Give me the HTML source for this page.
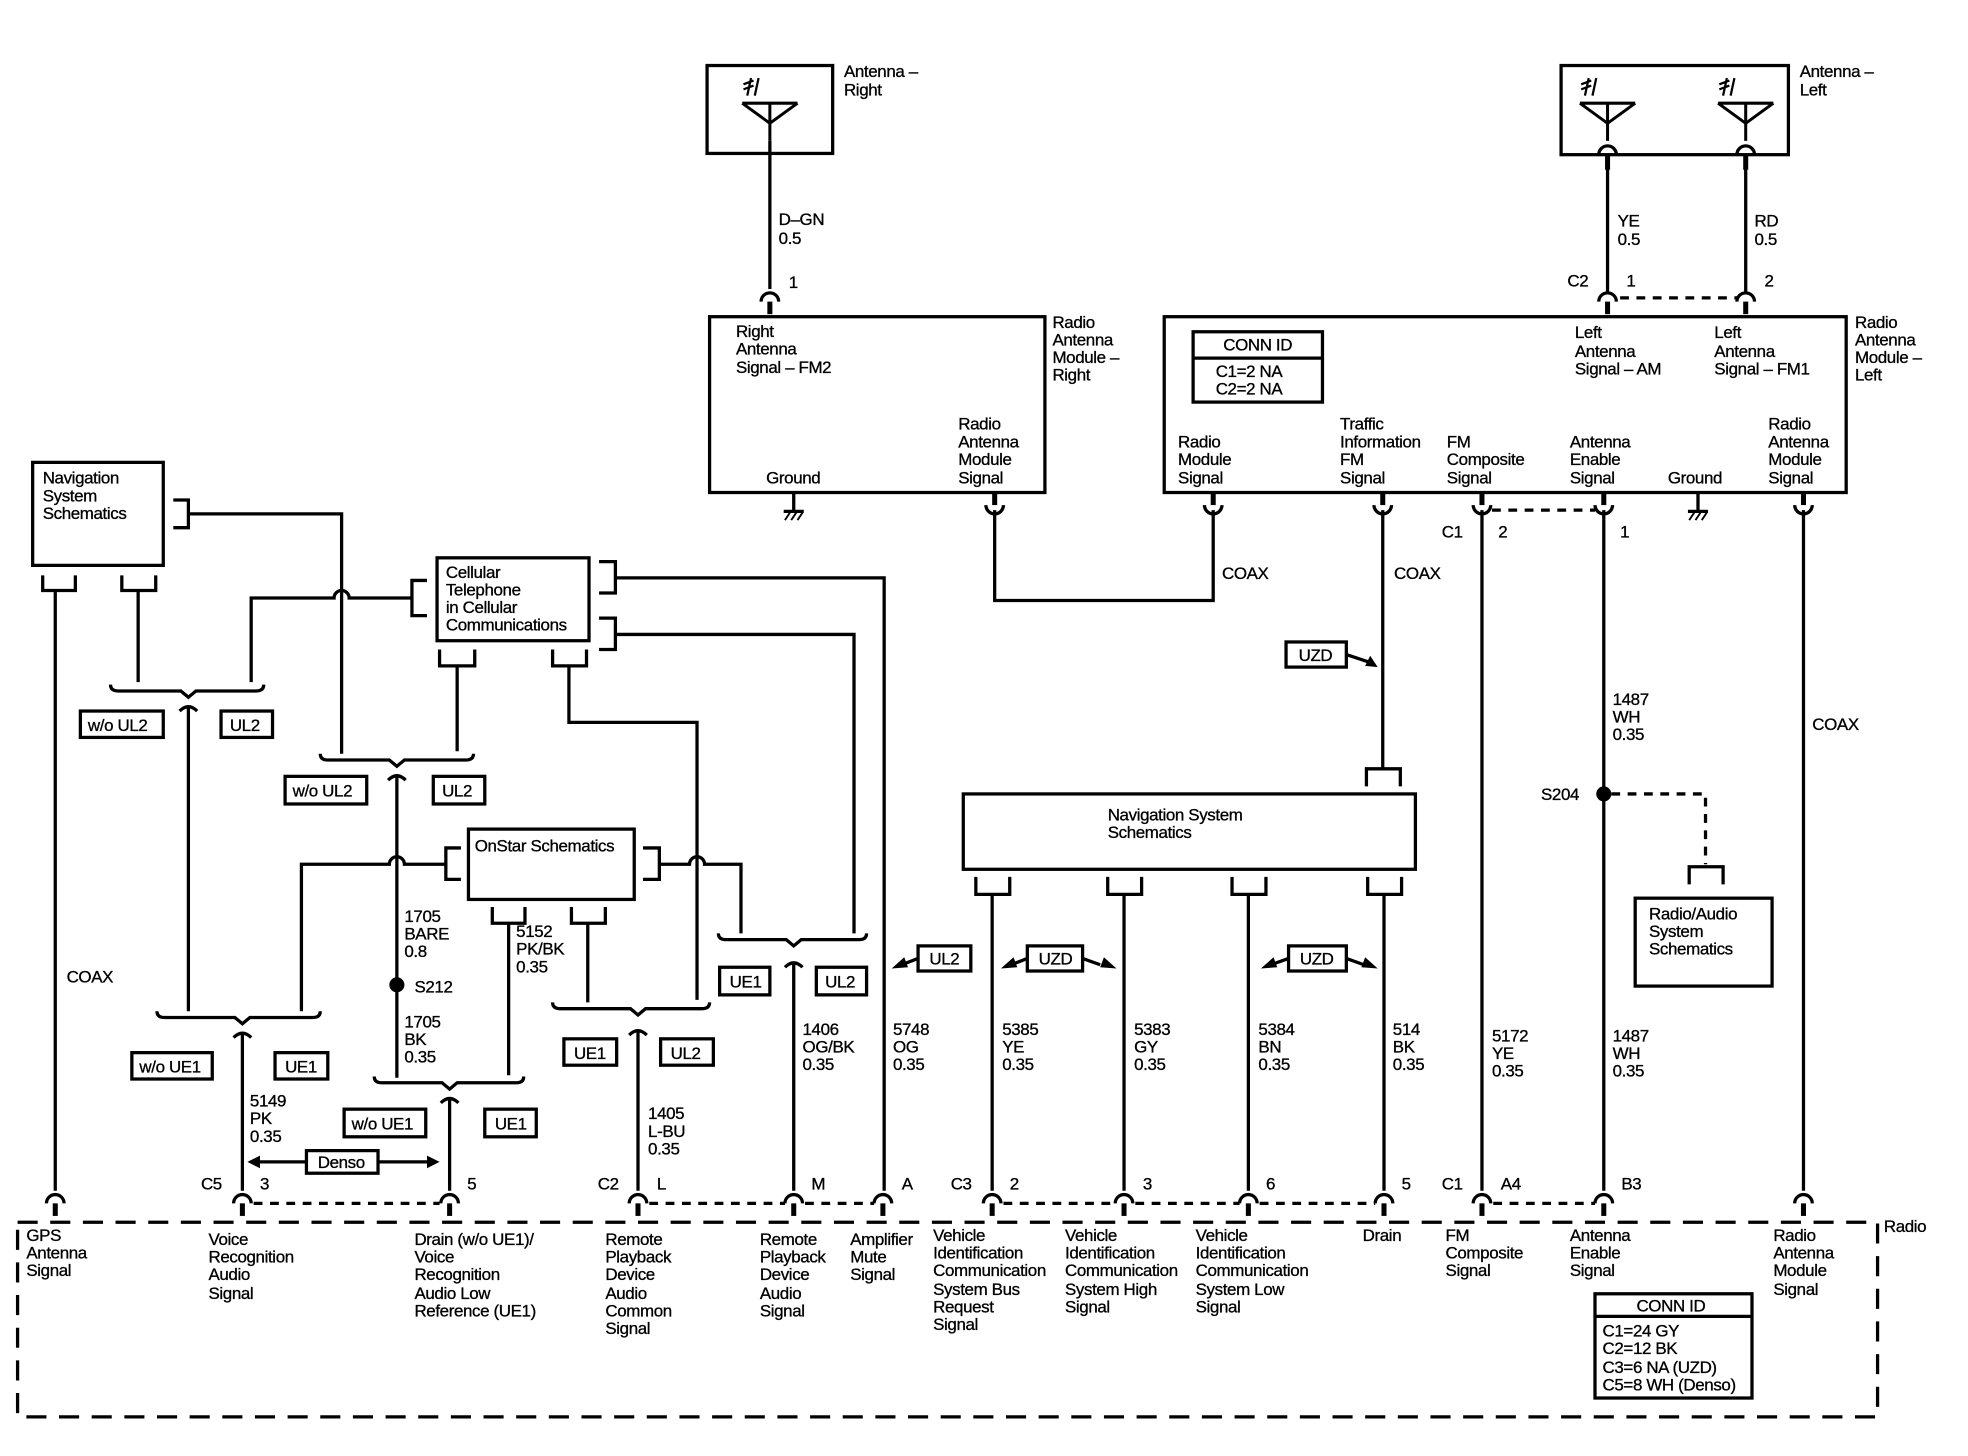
<!DOCTYPE html>
<html><head><meta charset="utf-8">
<style>
html,body{margin:0;padding:0;background:#fff;}
svg{display:block;}
text{font-family:"Liberation Sans",Arial,sans-serif;font-size:13.5px;fill:#000;stroke:#000;stroke-width:0.25;letter-spacing:-0.3px;}
.w{fill:none;stroke:#000;stroke-width:2.6;}
.d{fill:none;stroke:#000;stroke-width:2.6;stroke-dasharray:7 6;}
.dl{fill:none;stroke:#000;stroke-width:2.6;stroke-dasharray:16 10;}
.b{fill:#fff;stroke:#000;stroke-width:2.6;}
</style></head><body>
<svg width="1968" height="1456" viewBox="0 0 1567 1159" xmlns="http://www.w3.org/2000/svg">
<defs>
<g id="cn"><path d="M-7 0 a7 7 0 0 1 14 0" fill="none" stroke="#000" stroke-width="2.6"/><rect x="-2" y="0" width="4" height="10" fill="#000"/></g>
<g id="ant"><path d="M-22 0 H22 M-22 0 L0 16 L22 0 M0 0 V30" fill="none" stroke="#000" stroke-width="2.4"/><path d="M-18 -6 l3 -14 M-12 -6 l3 -14 M-21 -11 l8 -3 M-21 -15 l8 -3" fill="none" stroke="#000" stroke-width="1.8"/></g>
</defs>

<!-- Antenna Right -->
<rect class="b" x="563" y="52" width="100" height="70"/>
<use href="#ant" x="613" y="82"/>
<text x="672" y="61">Antenna –</text><text x="672" y="76">Right</text>
<path class="w" d="M613 112 V230"/>
<use href="#cn" x="613" y="240"/>
<text x="620" y="179">D–GN</text><text x="620" y="194">0.5</text>
<text x="628" y="229">1</text>

<!-- Radio Antenna Module Right -->
<rect class="b" x="565" y="252" width="267" height="140"/>
<text x="586" y="268">Right</text><text x="586" y="282">Antenna</text><text x="586" y="297">Signal – FM2</text>
<text x="610" y="385">Ground</text>
<path class="w" d="M632 392 V406 M624 407 H640"/><path d="M625 414 l4 -6 M630 414 l4 -6 M635 414 l4 -6" stroke="#000" stroke-width="1.5"/>
<text x="763" y="342">Radio</text><text x="763" y="356">Antenna</text><text x="763" y="370">Module</text><text x="763" y="385">Signal</text>
<text x="838" y="261">Radio</text><text x="838" y="275">Antenna</text><text x="838" y="289">Module –</text><text x="838" y="303">Right</text>
<use href="#cn" x="792" y="402" transform="rotate(180 792 402)"/>
<path class="w" d="M792 406 V478 H966 V406"/>
<use href="#cn" x="966" y="402" transform="rotate(180 966 402)"/>
<text x="973" y="461">COAX</text>

<!-- Antenna Left -->
<rect class="b" x="1243" y="52" width="181" height="71"/>
<use href="#ant" x="1280" y="82"/>
<use href="#ant" x="1390" y="82"/>
<path class="w" d="M1273 123 a7 7 0 0 1 14 0 M1383 123 a7 7 0 0 1 14 0"/>
<rect x="1278" y="123" width="4" height="12"/><rect x="1388" y="123" width="4" height="12"/>
<text x="1433" y="61">Antenna –</text><text x="1433" y="76">Left</text>
<path class="w" d="M1280 130 V232 M1390 130 V232"/>
<use href="#cn" x="1280" y="240"/><use href="#cn" x="1390" y="240"/>
<path class="d" d="M1290 237 H1384"/>
<text x="1288" y="180">YE</text><text x="1288" y="195">0.5</text>
<text x="1397" y="180">RD</text><text x="1397" y="195">0.5</text>
<text x="1248" y="228">C2</text><text x="1295" y="228">1</text><text x="1405" y="228">2</text>

<!-- Radio Antenna Module Left -->
<rect class="b" x="927" y="252" width="543" height="140"/>
<rect class="b" x="950" y="264" width="103" height="56"/>
<path class="w" d="M950 285 H1053"/>
<text x="974" y="279">CONN ID</text>
<text x="968" y="300">C1=2 NA</text><text x="968" y="314">C2=2 NA</text>
<text x="1254" y="269">Left</text><text x="1254" y="284">Antenna</text><text x="1254" y="298">Signal – AM</text>
<text x="1365" y="269">Left</text><text x="1365" y="284">Antenna</text><text x="1365" y="298">Signal – FM1</text>
<text x="1477" y="261">Radio</text><text x="1477" y="275">Antenna</text><text x="1477" y="289">Module –</text><text x="1477" y="303">Left</text>
<text x="938" y="356">Radio</text><text x="938" y="370">Module</text><text x="938" y="385">Signal</text>
<text x="1067" y="342">Traffic</text><text x="1067" y="356">Information</text><text x="1067" y="370">FM</text><text x="1067" y="385">Signal</text>
<text x="1152" y="356">FM</text><text x="1152" y="370">Composite</text><text x="1152" y="385">Signal</text>
<text x="1250" y="356">Antenna</text><text x="1250" y="370">Enable</text><text x="1250" y="385">Signal</text>
<text x="1328" y="385">Ground</text>
<text x="1408" y="342">Radio</text><text x="1408" y="356">Antenna</text><text x="1408" y="370">Module</text><text x="1408" y="385">Signal</text>
<path class="w" d="M1352 392 V406 M1344 407 H1360"/><path d="M1345 414 l4 -6 M1350 414 l4 -6 M1355 414 l4 -6" stroke="#000" stroke-width="1.5"/>
<use href="#cn" x="1101" y="402" transform="rotate(180 1101 402)"/>
<use href="#cn" x="1180" y="402" transform="rotate(180 1180 402)"/>
<use href="#cn" x="1277" y="402" transform="rotate(180 1277 402)"/>
<use href="#cn" x="1436" y="402" transform="rotate(180 1436 402)"/>
<path class="d" d="M1188 406 H1270"/>
<text x="1148" y="428">C1</text><text x="1193" y="428">2</text><text x="1290" y="428">1</text>
<path class="w" d="M1101 406 V612 M1180 406 V948 M1277 406 V948 M1436 406 V948"/>
<text x="1110" y="461">COAX</text>
<text x="1443" y="581">COAX</text>
<rect class="b" x="1024" y="511" width="48" height="20"/><text x="1034" y="526">UZD</text>
<path class="w" d="M1072 521 L1090 527"/><path d="M1097 531 l-10 -1 l4 -8 z"/>
<text x="1284" y="561">1487</text><text x="1284" y="575">WH</text><text x="1284" y="589">0.35</text>
<circle cx="1277" cy="632" r="6"/>
<text x="1227" y="637">S204</text>
<path class="d" d="M1283 632 H1358 V688"/>
<path class="w" d="M1345 704 V690 H1372 V704"/>
<rect class="b" x="1302" y="715" width="109" height="70"/>
<text x="1313" y="732">Radio/Audio</text><text x="1313" y="746">System</text><text x="1313" y="760">Schematics</text>
<text x="1284" y="829">1487</text><text x="1284" y="843">WH</text><text x="1284" y="857">0.35</text>
<text x="1188" y="829">5172</text><text x="1188" y="843">YE</text><text x="1188" y="857">0.35</text>

<!-- Navigation System Schematics (center) -->
<path class="w" d="M1088 626 V612 H1115 V626"/>
<rect class="b" x="767" y="632" width="360" height="60"/>
<text x="882" y="653">Navigation System</text><text x="882" y="667">Schematics</text>
<path class="w" d="M777 698 V712 H804 V698 M882 698 V712 H909 V698 M981 698 V712 H1008 V698 M1089 698 V712 H1116 V698"/>
<path class="w" d="M790 712 V948 M895 712 V948 M994 712 V948 M1102 712 V948"/>
<rect class="b" x="731" y="753" width="42" height="20"/><text x="740" y="768">UL2</text>
<path class="w" d="M731 763 L718 768"/><path d="M710 771 l10 -9 l3 8 z"/>
<rect class="b" x="818" y="753" width="44" height="20"/><text x="827" y="768">UZD</text>
<path class="w" d="M818 763 L805 768 M862 763 L876 768"/><path d="M797 771 l10 -9 l3 8 z M889 771 l-10 -9 l-3 8 z"/>
<rect class="b" x="1026" y="753" width="46" height="20"/><text x="1035" y="768">UZD</text>
<path class="w" d="M1026 763 L1012 768 M1072 763 L1086 768"/><path d="M1004 771 l10 -9 l3 8 z M1097 771 l-10 -9 l-3 8 z"/>
<text x="711" y="824">5748</text><text x="711" y="838">OG</text><text x="711" y="852">0.35</text>
<text x="798" y="824">5385</text><text x="798" y="838">YE</text><text x="798" y="852">0.35</text>
<text x="903" y="824">5383</text><text x="903" y="838">GY</text><text x="903" y="852">0.35</text>
<text x="1002" y="824">5384</text><text x="1002" y="838">BN</text><text x="1002" y="852">0.35</text>
<text x="1109" y="824">514</text><text x="1109" y="838">BK</text><text x="1109" y="852">0.35</text>

<!-- Left Navigation System Schematics -->
<rect class="b" x="26" y="368" width="104" height="82"/>
<text x="34" y="385">Navigation</text><text x="34" y="399">System</text><text x="34" y="413">Schematics</text>
<path class="w" d="M138 398 H150 V420 H138 M150 409 H272 V600"/>
<path class="w" d="M34 458 V470 H60 V458 M97 458 V470 H124 V458"/>
<path class="w" d="M44 470 V948 M110 470 V543"/>
<text x="53" y="782">COAX</text>

<!-- Cellular -->
<rect class="b" x="348" y="444" width="121" height="66"/>
<text x="355" y="460">Cellular</text><text x="355" y="474">Telephone</text><text x="355" y="488">in Cellular</text><text x="355" y="502">Communications</text>
<path class="w" d="M340 462 H328 V490 H340 M328 476 H278 a6 6 0 0 0 -12 0 H200 V543"/>
<path class="w" d="M477 447 H490 V472 H477 M490 460 H704 V948"/>
<path class="w" d="M477 492 H490 V517 H477 M490 505 H680 V743"/>
<path class="w" d="M350 517 V530 H378 V517 M440 517 V530 H467 V517"/>
<path class="w" d="M364 530 V598 M453 530 V575 H555 V796"/>

<!-- Forks -->
<path class="w" d="M88 545 q0 5 6 5 H144 l6 5 l6 -5 H204 q6 0 6 -5"/>
<path class="w" d="M143 566 q7 -7 14 0 M150 562 V805"/>
<rect class="b" x="64" y="566" width="66" height="21"/><text x="70" y="582">w/o UL2</text>
<rect class="b" x="176" y="566" width="41" height="21"/><text x="183" y="582">UL2</text>

<path class="w" d="M255 600 q0 5 6 5 H310 l6 5 l6 -5 H371 q6 0 6 -5"/>
<path class="w" d="M309 621 q7 -7 14 0 M316 617 V858"/>
<rect class="b" x="227" y="618" width="65" height="22"/><text x="233" y="634">w/o UL2</text>
<rect class="b" x="345" y="618" width="41" height="22"/><text x="352" y="634">UL2</text>

<!-- OnStar -->
<rect class="b" x="373" y="660" width="132" height="56"/>
<text x="378" y="678">OnStar Schematics</text>
<path class="w" d="M367 675 H355 V700 H367 M355 688 H322 a6 6 0 0 0 -12 0 H240 V805"/>
<path class="w" d="M512 675 H525 V700 H512 M525 688 H549 a6 6 0 0 1 12 0 H590 V743"/>
<path class="w" d="M392 722 V735 H418 V722 M455 722 V735 H482 V722"/>
<path class="w" d="M405 735 V856 M468 735 V798"/>
<text x="322" y="734">1705</text><text x="322" y="748">BARE</text><text x="322" y="762">0.8</text>
<circle cx="316" cy="784" r="6"/><text x="330" y="790">S212</text>
<text x="322" y="818">1705</text><text x="322" y="832">BK</text><text x="322" y="846">0.35</text>
<text x="411" y="746">5152</text><text x="411" y="760">PK/BK</text><text x="411" y="774">0.35</text>

<path class="w" d="M125 805 q0 5 6 5 H187 l6 5 l6 -5 H249 q6 0 6 -5"/>
<path class="w" d="M186 826 q7 -7 14 0 M193 822 V948"/>
<rect class="b" x="105" y="838" width="64" height="21"/><text x="111" y="854">w/o UE1</text>
<rect class="b" x="219" y="838" width="42" height="21"/><text x="227" y="854">UE1</text>
<text x="199" y="881">5149</text><text x="199" y="895">PK</text><text x="199" y="909">0.35</text>
<rect class="b" x="244" y="916" width="57" height="18"/><text x="253" y="930">Denso</text>
<path class="w" d="M205 925 H244 M301 925 H342"/><path d="M197 925 l10 -5 v10 z M350 925 l-10 -5 v10 z"/>

<path class="w" d="M298 857 q0 5 6 5 H352 l6 5 l6 -5 H411 q6 0 6 -5"/>
<path class="w" d="M351 878 q7 -7 14 0 M358 874 V948"/>
<rect class="b" x="274" y="883" width="65" height="22"/><text x="280" y="899">w/o UE1</text>
<rect class="b" x="386" y="883" width="41" height="22"/><text x="394" y="899">UE1</text>

<path class="w" d="M440 798 q0 5 6 5 H502 l6 5 l6 -5 H559 q6 0 6 -5"/>
<path class="w" d="M501 824 q7 -7 14 0 M508 820 V948"/>
<rect class="b" x="449" y="827" width="42" height="21"/><text x="457" y="843">UE1</text>
<rect class="b" x="526" y="827" width="42" height="21"/><text x="534" y="843">UL2</text>
<text x="516" y="891">1405</text><text x="516" y="905">L-BU</text><text x="516" y="919">0.35</text>

<path class="w" d="M572 743 q0 5 6 5 H626 l6 5 l6 -5 H684 q6 0 6 -5"/>
<path class="w" d="M625 770 q7 -7 14 0 M632 766 V948"/>
<rect class="b" x="573" y="770" width="40" height="22"/><text x="581" y="786">UE1</text>
<rect class="b" x="650" y="770" width="40" height="22"/><text x="657" y="786">UL2</text>
<text x="639" y="824">1406</text><text x="639" y="838">OG/BK</text><text x="639" y="852">0.35</text>

<!-- Radio box -->
<path class="dl" d="M14 973 H1495 V1128 H14 Z"/>
<text x="1500" y="981">Radio</text>
<use href="#cn" x="44" y="958"/><use href="#cn" x="193" y="958"/><use href="#cn" x="358" y="958"/>
<use href="#cn" x="508" y="958"/><use href="#cn" x="632" y="958"/><use href="#cn" x="703" y="958"/>
<use href="#cn" x="790" y="958"/><use href="#cn" x="895" y="958"/><use href="#cn" x="994" y="958"/>
<use href="#cn" x="1102" y="958"/><use href="#cn" x="1180" y="958"/><use href="#cn" x="1277" y="958"/>
<use href="#cn" x="1436" y="958"/>
<path class="d" d="M202 958 H350 M517 958 H625 M641 958 H696 M799 958 H888 M904 958 H987 M1003 958 H1095 M1189 958 H1270"/>
<text x="160" y="947">C5</text><text x="207" y="947">3</text><text x="372" y="947">5</text>
<text x="476" y="947">C2</text><text x="523" y="947">L</text><text x="646" y="947">M</text><text x="718" y="947">A</text>
<text x="757" y="947">C3</text><text x="804" y="947">2</text><text x="910" y="947">3</text><text x="1008" y="947">6</text><text x="1116" y="947">5</text>
<text x="1148" y="947">C1</text><text x="1195" y="947">A4</text><text x="1291" y="947">B3</text>

<text x="21" y="988">GPS</text><text x="21" y="1002">Antenna</text><text x="21" y="1016">Signal</text>
<text x="166" y="991">Voice</text><text x="166" y="1005">Recognition</text><text x="166" y="1019">Audio</text><text x="166" y="1034">Signal</text>
<text x="330" y="991">Drain (w/o UE1)/</text><text x="330" y="1005">Voice</text><text x="330" y="1019">Recognition</text><text x="330" y="1034">Audio Low</text><text x="330" y="1048">Reference (UE1)</text>
<text x="482" y="991">Remote</text><text x="482" y="1005">Playback</text><text x="482" y="1019">Device</text><text x="482" y="1034">Audio</text><text x="482" y="1048">Common</text><text x="482" y="1062">Signal</text>
<text x="605" y="991">Remote</text><text x="605" y="1005">Playback</text><text x="605" y="1019">Device</text><text x="605" y="1034">Audio</text><text x="605" y="1048">Signal</text>
<text x="677" y="991">Amplifier</text><text x="677" y="1005">Mute</text><text x="677" y="1019">Signal</text>
<text x="743" y="988">Vehicle</text><text x="743" y="1002">Identification</text><text x="743" y="1016">Communication</text><text x="743" y="1031">System Bus</text><text x="743" y="1045">Request</text><text x="743" y="1059">Signal</text>
<text x="848" y="988">Vehicle</text><text x="848" y="1002">Identification</text><text x="848" y="1016">Communication</text><text x="848" y="1031">System High</text><text x="848" y="1045">Signal</text>
<text x="952" y="988">Vehicle</text><text x="952" y="1002">Identification</text><text x="952" y="1016">Communication</text><text x="952" y="1031">System Low</text><text x="952" y="1045">Signal</text>
<text x="1085" y="988">Drain</text>
<text x="1151" y="988">FM</text><text x="1151" y="1002">Composite</text><text x="1151" y="1016">Signal</text>
<text x="1250" y="988">Antenna</text><text x="1250" y="1002">Enable</text><text x="1250" y="1016">Signal</text>
<text x="1412" y="988">Radio</text><text x="1412" y="1002">Antenna</text><text x="1412" y="1016">Module</text><text x="1412" y="1031">Signal</text>
<rect class="b" x="1270" y="1030" width="125" height="83"/>
<path class="w" d="M1270 1048 H1395"/>
<text x="1303" y="1044">CONN ID</text>
<text x="1276" y="1064">C1=24 GY</text><text x="1276" y="1078">C2=12 BK</text><text x="1276" y="1093">C3=6 NA (UZD)</text><text x="1276" y="1107">C5=8 WH (Denso)</text>
</svg>
</body></html>
